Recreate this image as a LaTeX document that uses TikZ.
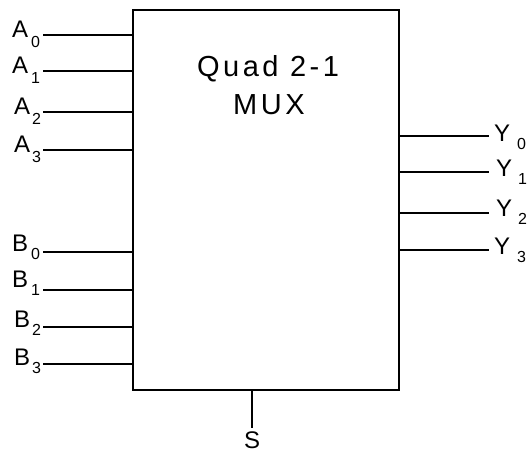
\documentclass[tikz,border=0pt]{standalone}
\usepackage{fontspec}
\setmainfont{Liberation Sans}
\newfontfamily\titlefont[LetterSpace=12]{Liberation Sans}
\newcommand\sbs[2]{\raisebox{-#1pt}{\fontsize{16}{16}\selectfont #2}}
\begin{document}
\begin{tikzpicture}[x=1pt,y=-1pt,
  lead/.style={line width=1.8pt},
  lbl/.style={inner sep=0pt, font=\fontsize{24}{24}\selectfont, anchor=base west},
  ttl/.style={inner sep=0pt, font=\titlefont\fontsize{29}{34}\selectfont, anchor=base west}]
\useasboundingbox (0,0) rectangle (531,454);
\node[draw, line width=2.5pt, minimum width=266pt, minimum height=380pt, inner sep=0pt] (mux) at (266,200) {};
\node[ttl] (t1) at (197,77) {Quad 2-1};
\node[ttl] (t2) at (233,115) {MUX};
% A inputs
\node[lbl] (la0) at (12,38) {A\hspace{3pt}\sbs{10}{0}};
\node[lbl] (la1) at (12,74) {A\hspace{3pt}\sbs{10}{1}};
\node[lbl] (la2) at (14,115) {A\hspace{2pt}\sbs{10}{2}};
\node[lbl] (la3) at (14,153) {A\hspace{2pt}\sbs{10}{3}};
\coordinate (a0) at (43,35);
\coordinate (a1) at (43,71);
\coordinate (a2) at (43,112);
\coordinate (a3) at (43,150);
% B inputs
\node[lbl] (lb0) at (12,252) {B\hspace{3pt}\sbs{8}{0}};
\node[lbl] (lb1) at (12,288) {B\hspace{3pt}\sbs{8}{1}};
\node[lbl] (lb2) at (14,328) {B\hspace{2pt}\sbs{8}{2}};
\node[lbl] (lb3) at (14,366) {B\hspace{2pt}\sbs{8}{3}};
\coordinate (b0) at (43,252);
\coordinate (b1) at (43,290);
\coordinate (b2) at (43,327);
\coordinate (b3) at (43,364);
\foreach \n in {a0,a1,a2,a3,b0,b1,b2,b3}{\draw[lead] (\n) -- (\n -| mux.west);}
% Y outputs
\coordinate (y0) at (489,136);
\coordinate (y1) at (489,172);
\coordinate (y2) at (489,213);
\coordinate (y3) at (489,250);
\foreach \n in {y0,y1,y2,y3}{\draw[lead] (\n -| mux.east) -- (\n);}
\node[lbl] (ly0) at (494,142) {Y\hspace{7pt}\sbs{8}{0}};
\node[lbl] (ly1) at (496,177) {Y\hspace{6pt}\sbs{8}{1}};
\node[lbl] (ly2) at (496,217) {Y\hspace{6pt}\sbs{8}{2}};
\node[lbl] (ly3) at (494,255) {Y\hspace{7pt}\sbs{8}{3}};
% select
\coordinate (s) at (252,428);
\draw[lead] (s |- mux.south) -- (s);
\node[lbl] (ls) at (244,449) {S};
\end{tikzpicture}
\end{document}
